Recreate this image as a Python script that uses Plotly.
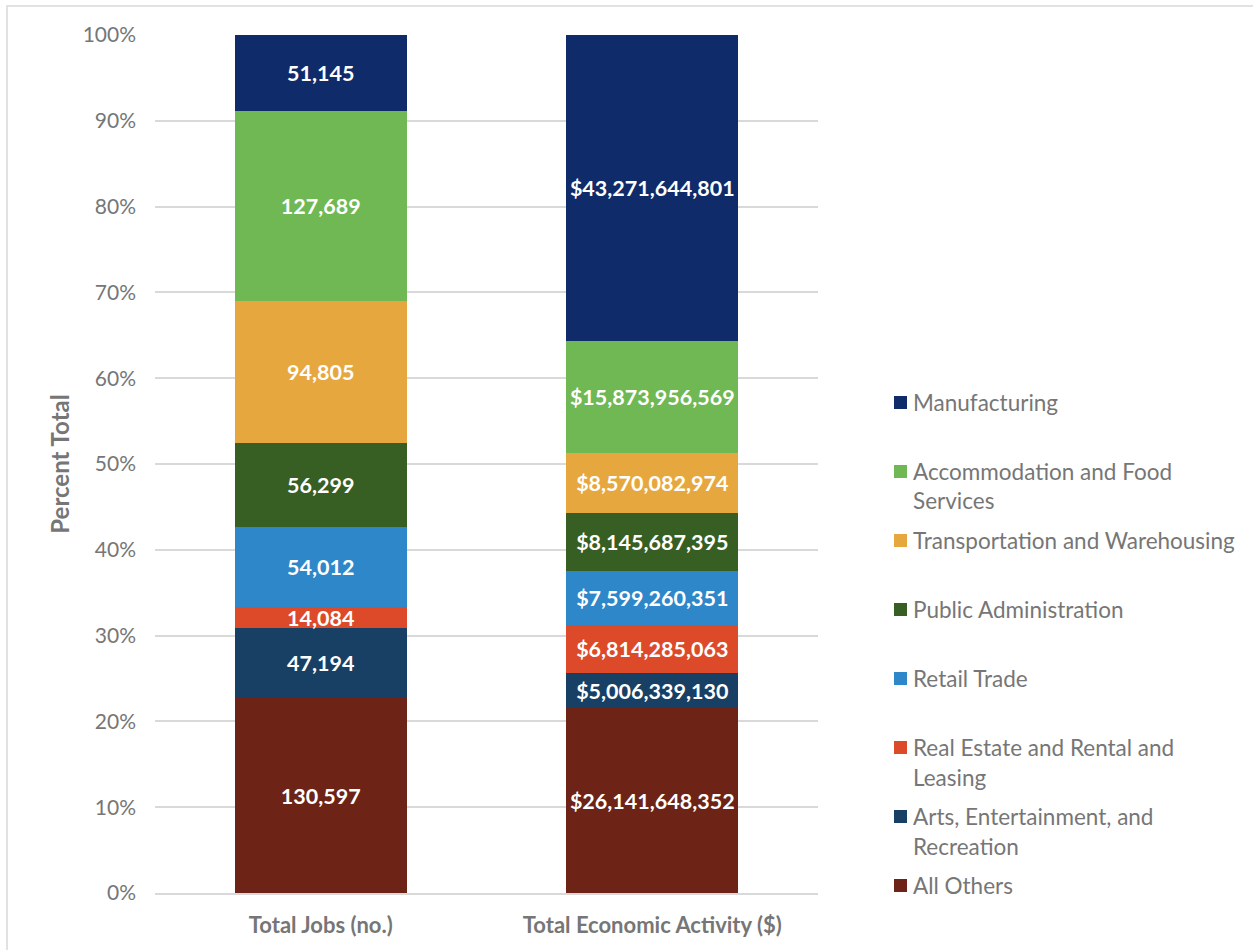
import plotly.graph_objects as go

# Categories and series (bottom of stack first)
categories = ["Total Jobs (no.)", "Total Economic Activity ($)"]
series_names = [
    "All Others",
    "Arts, Entertainment, and Recreation",
    "Real Estate and Rental and Leasing",
    "Retail Trade",
    "Public Administration",
    "Transportation and Warehousing",
    "Accommodation and Food Services",
    "Manufacturing",
]
legend_lines = [
    ["All Others"],
    ["Arts, Entertainment, and", "Recreation"],
    ["Real Estate and Rental and", "Leasing"],
    ["Retail Trade"],
    ["Public Administration"],
    ["Transportation and Warehousing"],
    ["Accommodation and Food", "Services"],
    ["Manufacturing"],
]
jobs = [130597, 47194, 14084, 54012, 56299, 94805, 127689, 51145]
activity = [26141648352, 5006339130, 6814285063, 7599260351, 8145687395,
            8570082974, 15873956569, 43271644801]
colors = ["#6D2316", "#174064", "#DD4A29", "#2E87C9", "#375E23",
          "#E7A73F", "#70B853", "#0F2B69"]
y_ticks = [0, 10, 20, 30, 40, 50, 60, 70, 80, 90, 100]

FONT = "Lato"
GRAY = "#767676"

fig = go.Figure()
for name, j, a, c in zip(series_names, jobs, activity, colors):
    fig.add_trace(go.Bar(
        name=name,
        x=categories,
        y=[j, a],
        marker=dict(color=c, line=dict(width=0)),
        text=[f"{j:,}", f"${a:,}"],
        textposition="inside",
        insidetextanchor="middle",
        constraintext="none",
        textangle=0,
        textfont=dict(family=FONT, size=21.5, color="white", weight="bold"),
        showlegend=False,
        hoverinfo="name+y",
    ))

# Plot-area geometry in pixels
W, H = 1253, 950
ML, MR, MT, MB = 155, 435, 35, 57
PW, PH = W - ML - MR, H - MT - MB


def px_x(x):
    return (x - ML) / PW


def px_y(y):
    return (H - MB - y) / PH


# Legend drawn on the right: top item first, wrapped names on extra lines
legend_x_sq = 894
legend_x_txt = 911
first_y = 402
step = 69
line_gap = 30
annotations = []
shapes = []
for k, idx in enumerate(reversed(range(len(series_names)))):
    yc = first_y + step * k
    shapes.append(dict(
        type="rect", xref="paper", yref="paper",
        x0=px_x(legend_x_sq), x1=px_x(legend_x_sq + 13),
        y0=px_y(yc + 7), y1=px_y(yc - 6),
        fillcolor=colors[idx], line=dict(width=0),
    ))
    for li, line in enumerate(legend_lines[idx]):
        annotations.append(dict(
            xref="paper", yref="paper",
            x=px_x(legend_x_txt), y=px_y(yc + line_gap * li),
            xanchor="left", yanchor="middle", align="left",
            text=line, showarrow=False,
            font=dict(family=FONT, size=22.5, color=GRAY),
        ))

# Outer chart border
shapes.append(dict(
    type="rect", xref="paper", yref="paper",
    x0=px_x(7), x1=px_x(1270), y0=px_y(970), y1=px_y(6),
    line=dict(color="#D9D9D9", width=1.5), fillcolor="rgba(0,0,0,0)",
    layer="below",
))

fig.update_layout(
    width=W, height=H,
    barmode="stack",
    barnorm="percent",
    bargap=0.48,
    plot_bgcolor="white",
    paper_bgcolor="white",
    margin=dict(l=ML, r=MR, t=MT, b=MB, autoexpand=False),
    font=dict(family=FONT, color=GRAY),
    shapes=shapes,
    annotations=annotations,
    showlegend=False,
    xaxis=dict(
        showgrid=False,
        showline=True, linecolor="#D9D9D9", linewidth=1.5,
        tickfont=dict(family=FONT, size=22, color=GRAY, weight="bold"),
        ticklabelstandoff=12,
    ),
    yaxis=dict(
        range=[0, 100],
        tickvals=y_ticks,
        ticktext=[f"{v}%" for v in y_ticks],
        showgrid=True, gridcolor="#D9D9D9", gridwidth=1.5,
        zeroline=False, showline=False,
        tickfont=dict(family=FONT, size=21, color=GRAY),
        ticklabelstandoff=18,
        title=dict(text="Percent Total", standoff=6,
                   font=dict(family=FONT, size=24, color=GRAY, weight="bold")),
    ),
)

fig.write_html("out.html")
